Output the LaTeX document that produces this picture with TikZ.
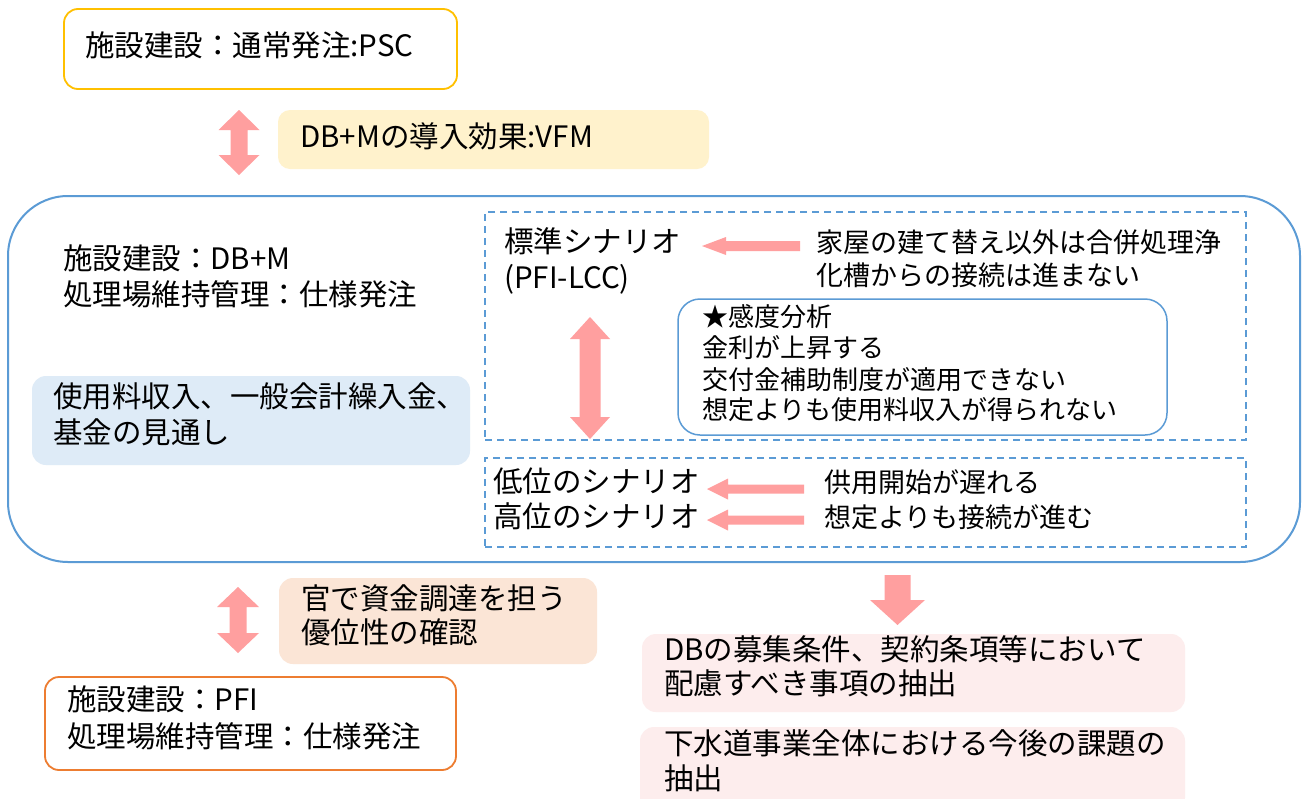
\documentclass[tikz,border=0pt]{standalone}
\usepackage{fontspec}
\setmainfont{Noto Sans CJK JP}
\definecolor{yellowc}{HTML}{FFC000}
\definecolor{orangec}{HTML}{ED7D31}
\definecolor{bluec}{HTML}{5B9BD5}
\definecolor{arrowc}{HTML}{FF9F9F}
\definecolor{vfmfill}{HTML}{FFF2CC}
\definecolor{peachfill}{HTML}{FBE5D6}
\definecolor{lbluefill}{HTML}{DEEBF7}
\definecolor{pinkfill}{HTML}{FDEDED}
\newcommand{\myVDArrow}[6]{\fill[arrowc] (#1,#2) -- ({#1+#4},{#2+#6}) -- ({#1+#5},{#2+#6}) -- ({#1+#5},{#3-#6}) -- ({#1+#4},{#3-#6}) -- (#1,#3) -- ({#1-#4},{#3-#6}) -- ({#1-#5},{#3-#6}) -- ({#1-#5},{#2+#6}) -- ({#1-#4},{#2+#6}) -- cycle;}
\newcommand{\myLArrow}[6]{\fill[arrowc] (#1,#3) -- ({#1+#6},{#3-#4}) -- ({#1+#6},{#3-#5}) -- (#2,{#3-#5}) -- (#2,{#3+#5}) -- ({#1+#6},{#3+#5}) -- ({#1+#6},{#3+#4}) -- cycle;}
\newcommand{\myDArrow}[6]{\fill[arrowc] (#1,#3) -- ({#1+#4},{#3-#6}) -- ({#1+#5},{#3-#6}) -- ({#1+#5},#2) -- ({#1-#5},#2) -- ({#1-#5},{#3-#6}) -- ({#1-#4},{#3-#6}) -- cycle;}
\tikzset{
  box/.style={rectangle, inner sep=0pt, rounded corners=#1},
  box/.default=14pt,
  txt/.style={anchor=base west, inner sep=0pt, font=\fontsize{29.5}{35}\selectfont},
  txtm/.style={anchor=base west, inner sep=0pt, font=\fontsize{27}{32}\selectfont},
  txts/.style={anchor=base west, inner sep=0pt, font=\fontsize{26}{31}\selectfont},
  dashbox/.style={rectangle, inner sep=0pt, draw=bluec, line width=1.5pt, dash pattern=on 7pt off 5pt},
}
\begin{document}
\begin{tikzpicture}[x=1pt,y=-1pt]
\useasboundingbox (0,0) rectangle (1309,798);
\clip (0,0) rectangle (1309,798);
\fill[white] (0,0) rectangle (1309,798);
% top box
\node[box, draw=yellowc, line width=1.8pt, minimum width=393pt, minimum height=80pt] (psc) at (260.5,49) {};
\node[txt] (psct) at (85,56) {施設建設：通常発注:PSC};
% VFM
\node[box=12pt, fill=vfmfill, minimum width=431pt, minimum height=59pt] (vfm) at (493.5,139.5) {};
\node[txt] (vfmt) at (300,147) {DB+Mの導入効果:VFM};
\myVDArrow{239}{110}{175}{20.5}{8.5}{20}
% big box
\node[box=60pt, draw=bluec, line width=2pt, minimum width=1292pt, minimum height=366pt] (big) at (654,379) {};
\node[txt] (dbm1) at (63,269) {施設建設：DB+M};
\node[txt] (dbm2) at (63,305) {処理場維持管理：仕様発注};
\node[box=14pt, fill=lbluefill, minimum width=438pt, minimum height=89pt] (rev) at (251,420.5) {};
\node[txt] (rev1) at (53,407) {使用料収入、一般会計繰入金、};
\node[txt] (rev2) at (53,443) {基金の見通し};
% dashed boxes
\node[dashbox, minimum width=761pt, minimum height=228pt] (d1) at (865.5,326) {};
\node[dashbox, minimum width=761pt, minimum height=89pt] (d2) at (865.5,502.5) {};
\node[txt] (std1) at (504,252) {標準シナリオ};
\node[txt] (std2) at (504,288) {(PFI-LCC)};
\myLArrow{702}{800}{246}{9}{5}{24}
\node[txtm] (k1) at (816,252) {家屋の建て替え以外は合併処理浄};
\node[txtm] (k2) at (816,285) {化槽からの接続は進まない};
\node[box=22pt, draw=bluec, line width=1.5pt, fill=white, minimum width=489pt, minimum height=136pt] (sens) at (922.5,367) {};
\node[txts] (s1) at (702,326) {★感度分析};
\node[txts] (s2) at (702,357) {金利が上昇する};
\node[txts] (s3) at (702,389) {交付金補助制度が適用できない};
\node[txts] (s4) at (702,419) {想定よりも使用料収入が得られない};
\myVDArrow{590}{317}{439}{20}{10.5}{22}
\node[txt] (low) at (493,492) {低位のシナリオ};
\node[txt] (high) at (493,527) {高位のシナリオ};
\myLArrow{707}{804}{489}{10.5}{4.5}{21}
\myLArrow{707}{804}{520}{10.5}{4.5}{21}
\node[txtm] (lowr) at (824,492) {供用開始が遅れる};
\node[txtm] (highr) at (824,527) {想定よりも接続が進む};
% bottom left
\myVDArrow{238}{587}{653}{21}{8.5}{20}
\node[box=14pt, fill=peachfill, minimum width=318pt, minimum height=86pt] (kan) at (438,621) {};
\node[txt] (kan1) at (301,609) {官で資金調達を担う};
\node[txt] (kan2) at (301,643) {優位性の確認};
\node[box, draw=orangec, line width=1.8pt, minimum width=411pt, minimum height=93pt] (pfi) at (250.5,723.5) {};
\node[txt] (pfi1) at (67,710) {施設建設：PFI};
\node[txt] (pfi2) at (67,747) {処理場維持管理：仕様発注};
% bottom right
\myDArrow{897.5}{575}{625}{27.5}{13}{25}
\node[box=14pt, fill=pinkfill, minimum width=543pt, minimum height=78pt] (dbc) at (913.5,673) {};
\node[txt] (dbc1) at (664,660) {DBの募集条件、契約条項等において};
\node[txt] (dbc2) at (664,694) {配慮すべき事項の抽出};
\node[box=14pt, fill=pinkfill, minimum width=545pt, minimum height=85pt] (sew) at (912.5,769.5) {};
\node[txt] (sew1) at (664,754) {下水道事業全体における今後の課題の};
\node[txt] (sew2) at (664,789) {抽出};
\end{tikzpicture}
\end{document}
